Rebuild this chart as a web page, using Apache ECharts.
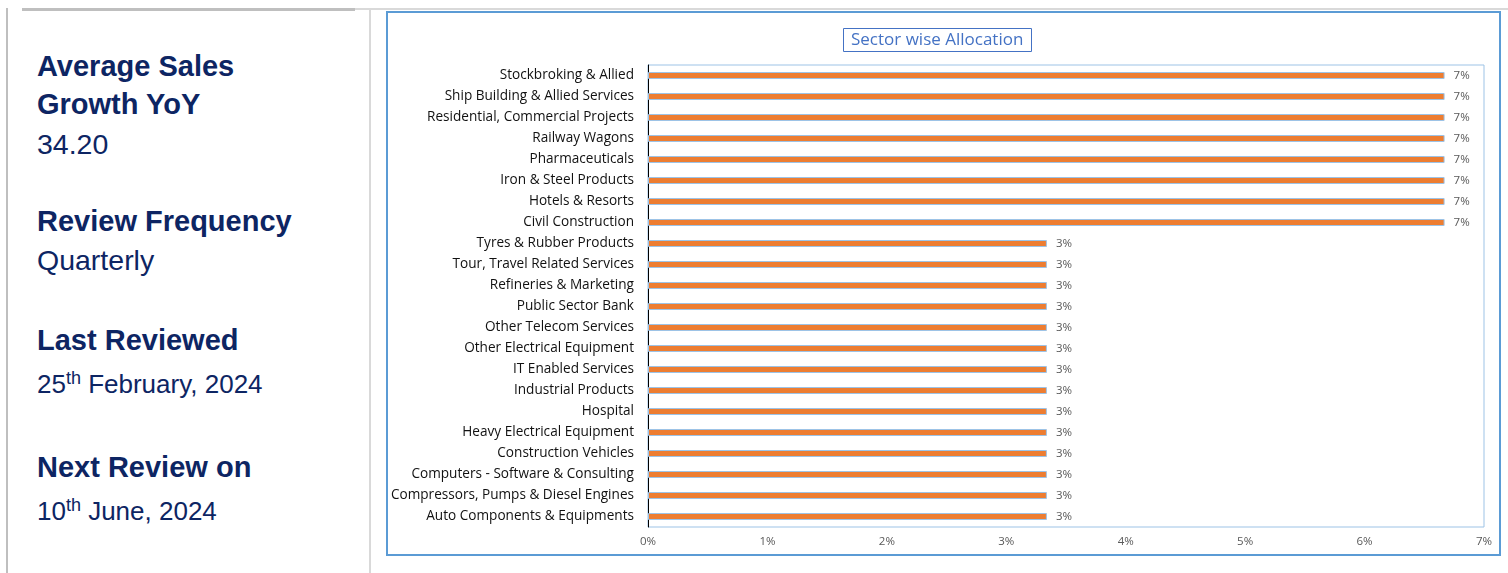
<!DOCTYPE html>
<html>
<head>
<meta charset="utf-8">
<script src="https://cdn.jsdelivr.net/npm/echarts@6/dist/echarts.min.js"></script>
<style>
  html, body { margin:0; padding:0; background:#fff; }
  body { width:1508px; height:573px; position:relative; overflow:hidden; font-family:"Liberation Sans", Arial, sans-serif; }
  #chart { position:absolute; left:0; top:0; width:1508px; height:573px; }
  .ln { position:absolute; }
  .t { position:absolute; left:37px; color:#0d2563; white-space:nowrap; }
  .h { font-weight:bold; font-size:29px; line-height:29px; }
  .v { font-size:28.5px; line-height:29px; }
  .d { font-size:26px; line-height:26px; }
  .sup { font-size:18px; position:relative; top:-9px; }
</style>
</head>
<body>
<div class="ln" style="left:6px;top:8px;width:2px;height:565px;background:#BFBFBF"></div>
<div class="ln" style="left:22px;top:8px;width:333px;height:3px;background:#BFBFBF"></div>
<div class="ln" style="left:355px;top:8px;width:1153px;height:2px;background:#D9D9D9"></div>
<div class="ln" style="left:369px;top:8px;width:2px;height:565px;background:#D9D9D9"></div>
<div class="ln" style="left:386px;top:11px;width:1115px;height:545px;box-sizing:border-box;border:2px solid #5B9BD5"></div>

<div class="t h" style="top:52px">Average Sales</div>
<div class="t h" style="top:90px">Growth YoY</div>
<div class="t v" style="top:130px">34.20</div>
<div class="t h" style="top:207px">Review Frequency</div>
<div class="t v" style="top:246px">Quarterly</div>
<div class="t h" style="top:326px">Last Reviewed</div>
<div class="t d" style="top:371px">25<span class="sup">th</span> February, 2024</div>
<div class="t h" style="top:453px">Next Review on</div>
<div class="t d" style="top:498px">10<span class="sup">th</span> June, 2024</div>

<div id="chart"></div>
<script>
const titleText = 'Sector wise Allocation';
const categories = [
  'Stockbroking & Allied',
  'Ship Building & Allied Services',
  'Residential, Commercial Projects',
  'Railway Wagons',
  'Pharmaceuticals',
  'Iron & Steel Products',
  'Hotels & Resorts',
  'Civil Construction',
  'Tyres & Rubber Products',
  'Tour, Travel Related Services',
  'Refineries & Marketing',
  'Public Sector Bank',
  'Other Telecom Services',
  'Other Electrical Equipment',
  'IT Enabled Services',
  'Industrial Products',
  'Hospital',
  'Heavy Electrical Equipment',
  'Construction Vehicles',
  'Computers - Software & Consulting',
  'Compressors, Pumps & Diesel Engines',
  'Auto Components & Equipments'
];
const allocation = [
  6.67, 6.67, 6.67, 6.67, 6.67, 6.67, 6.67, 6.67,
  3.34, 3.34, 3.34, 3.34, 3.34, 3.34, 3.34, 3.34, 3.34, 3.34, 3.34, 3.34, 3.34, 3.34
];
const xTicks = [0, 1, 2, 3, 4, 5, 6, 7];

const chart = echarts.init(document.getElementById('chart'), null, { renderer: 'canvas' });
chart.setOption({
  backgroundColor: 'transparent',
  animation: false,
  title: {
    text: titleText,
    left: 843,
    top: 28,
    padding: [3, 8, 3, 8],
    borderColor: '#4472C4',
    borderWidth: 1,
    textStyle: { color: '#4472C4', fontSize: 17, fontWeight: 'normal', fontFamily: 'Open Sans', lineHeight: 18 }
  },
  grid: {
    left: 648, right: 24, top: 65, bottom: 46,
    containLabel: false,
    outerBoundsMode: 'none',
    show: true,
    borderColor: '#9DC3E6',
    borderWidth: 1,
    backgroundColor: 'transparent'
  },
  xAxis: {
    type: 'value',
    min: xTicks[0],
    max: xTicks[xTicks.length - 1],
    interval: 1,
    axisLine: { show: false },
    axisTick: { show: false },
    splitLine: { show: false },
    axisLabel: {
      formatter: v => v + '%',
      color: '#595959',
      fontSize: 11.5,
      fontFamily: 'Open Sans',
      margin: 9
    }
  },
  yAxis: {
    type: 'category',
    data: categories,
    inverse: true,
    axisTick: { show: false },
    axisLine: { show: true, lineStyle: { color: '#000', width: 1 } },
    axisLabel: {
      color: '#111',
      fontSize: 13.6,
      fontFamily: 'Open Sans',
      margin: 14
    }
  },
  series: [{
    type: 'bar',
    data: allocation,
    barWidth: 7,
    itemStyle: { color: '#ED7D31', borderColor: '#9DC3E6', borderWidth: 1 },
    label: {
      show: true,
      position: 'right',
      distance: 9,
      formatter: p => Math.round(p.value) + '%',
      color: '#595959',
      fontSize: 11.5,
      fontFamily: 'Open Sans'
    }
  }]
});
</script>
</body>
</html>
